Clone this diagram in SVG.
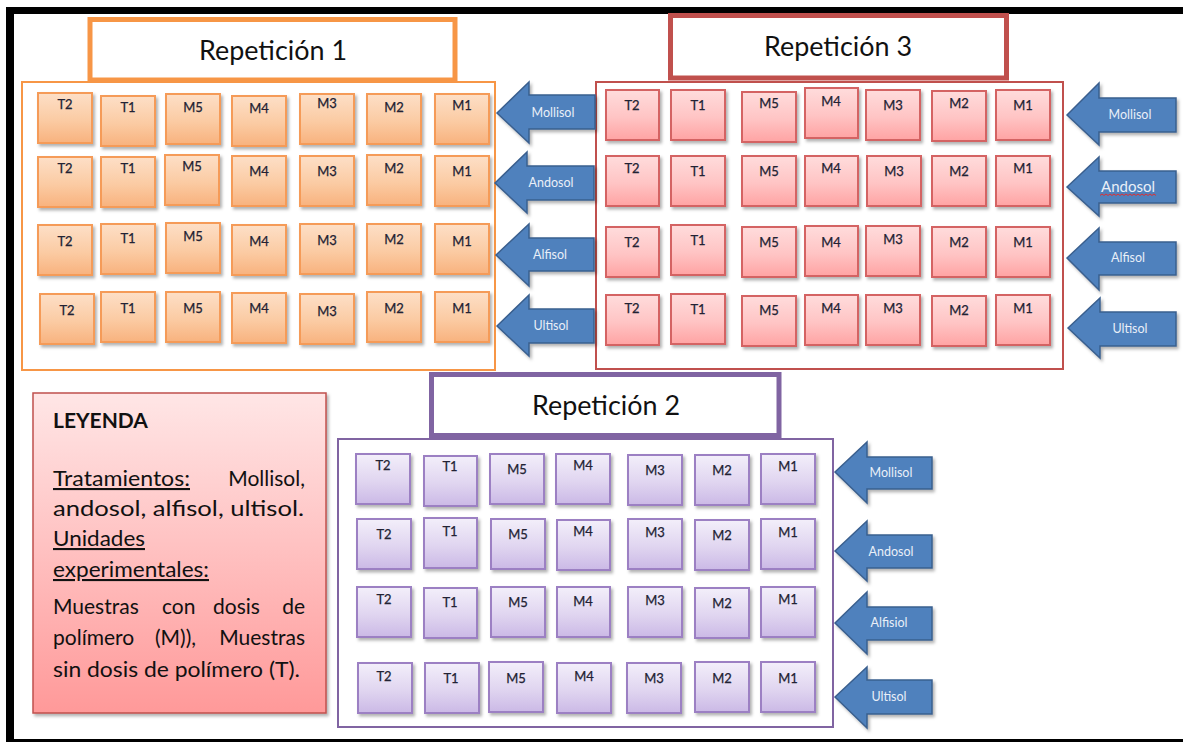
<svg xmlns="http://www.w3.org/2000/svg" width="1183" height="742" viewBox="0 0 1183 742">
  <defs>
    <filter id="sh" x="-15%" y="-15%" width="140%" height="140%">
      <feDropShadow dx="2" dy="2.5" stdDeviation="1.5" flood-color="#000" flood-opacity="0.3"/>
    </filter>
    <linearGradient id="gO" x1="0" y1="0" x2="0" y2="1">
      <stop offset="0" stop-color="#FDDFC7"/>
      <stop offset="0.55" stop-color="#FBCBA3"/>
      <stop offset="1" stop-color="#F8B27E"/>
    </linearGradient>
    <linearGradient id="gR" x1="0" y1="0" x2="0" y2="1">
      <stop offset="0" stop-color="#FFDCDC"/>
      <stop offset="0.55" stop-color="#FFC4C4"/>
      <stop offset="1" stop-color="#FFA3A3"/>
    </linearGradient>
    <linearGradient id="gP" x1="0" y1="0" x2="0" y2="1">
      <stop offset="0" stop-color="#F3EFFA"/>
      <stop offset="0.55" stop-color="#E0D5F0"/>
      <stop offset="1" stop-color="#CBB9E6"/>
    </linearGradient>
    <linearGradient id="gL" x1="0" y1="0" x2="0" y2="1">
      <stop offset="0" stop-color="#FFE6E6"/>
      <stop offset="0.5" stop-color="#FFC0C0"/>
      <stop offset="1" stop-color="#FF9999"/>
    </linearGradient>
  </defs>
  <style>
    .cell rect { stroke-width: 2; filter: url(#sh); }
    .o rect { fill: url(#gO); stroke: #F59B58; }
    .r rect { fill: url(#gR); stroke: #D46464; }
    .p rect { fill: url(#gP); stroke: #9C80C3; }
    .cell text { font-family: Lato, "Liberation Sans", sans-serif; font-size: 13px; text-anchor: middle; fill: #222233; stroke: #222233; stroke-width: 0.25; }
    .frame { fill: none; stroke-width: 2; }
    .title rect { fill: #fff; stroke-width: 5; }
    .title text { font-family: Lato, "Liberation Sans", sans-serif; font-size: 26px; text-anchor: middle; fill: #111; }
    .arrow polygon { fill: #4F81BD; stroke: #3A5F8E; stroke-width: 1.5; filter: url(#sh); }
    .arrow text { font-family: Lato, "Liberation Sans", sans-serif; font-size: 12.5px; text-anchor: middle; fill: #E9EFF8; }
    .lg { font-family: Lato, "Liberation Sans", sans-serif; font-size: 21px; fill: #111; }
    .u { text-decoration: underline; }
  </style>

  <rect width="1183" height="742" fill="#fff"/>

  <!-- page border -->
  <g id="page-border" fill="#000">
    <rect x="6" y="7" width="1177" height="7"/>
    <rect x="6" y="7" width="8" height="735"/>
    <rect x="6" y="739" width="1177" height="3"/>
  </g>

  <!-- plot frames -->
  <rect id="frame-rep1" class="frame" x="22" y="82" width="473" height="288" stroke="#F79646"/>
  <rect id="frame-rep3" class="frame" x="596" y="82" width="467" height="287" stroke="#C0504D"/>
  <rect id="frame-rep2" class="frame" x="338" y="439" width="495" height="288" stroke="#8064A2"/>

  <!-- titles -->
  <g id="title-rep1" class="title">
    <rect x="90" y="19.5" width="365" height="60.5" stroke="#F79646"/>
    <text x="273" y="60" textLength="148" lengthAdjust="spacingAndGlyphs">Repetición 1</text>
  </g>
  <g id="title-rep3" class="title">
    <rect x="670.5" y="15.5" width="336" height="62.5" stroke="#C0504D"/>
    <text x="838" y="56" textLength="148" lengthAdjust="spacingAndGlyphs">Repetición 3</text>
  </g>
  <g id="title-rep2" class="title">
    <rect x="431.5" y="374.5" width="347.5" height="61" stroke="#8064A2"/>
    <text x="606" y="415" textLength="148" lengthAdjust="spacingAndGlyphs">Repetición 2</text>
  </g>

  <!-- Repetición 1 cells -->
  <g id="rep1-cells">
    <g id="r1-1-T2" class="cell o"><rect x="38" y="93" width="54" height="50"/><text x="65" y="109">T2</text></g>
    <g id="r1-1-T1" class="cell o"><rect x="101" y="96" width="54" height="50"/><text x="128" y="112">T1</text></g>
    <g id="r1-1-M5" class="cell o"><rect x="166" y="94" width="54" height="50"/><text x="193" y="112">M5</text></g>
    <g id="r1-1-M4" class="cell o"><rect x="232" y="96" width="54" height="50"/><text x="259" y="113">M4</text></g>
    <g id="r1-1-M3" class="cell o"><rect x="300" y="94" width="54" height="50"/><text x="327" y="108">M3</text></g>
    <g id="r1-1-M2" class="cell o"><rect x="367" y="94" width="54" height="50"/><text x="394" y="112">M2</text></g>
    <g id="r1-1-M1" class="cell o"><rect x="435" y="94" width="54" height="50"/><text x="462" y="110">M1</text></g>

    <g id="r1-2-T2" class="cell o"><rect x="38" y="157" width="54" height="50"/><text x="65" y="173">T2</text></g>
    <g id="r1-2-T1" class="cell o"><rect x="101" y="157" width="54" height="50"/><text x="128" y="173">T1</text></g>
    <g id="r1-2-M5" class="cell o"><rect x="165" y="155" width="54" height="50"/><text x="192" y="171">M5</text></g>
    <g id="r1-2-M4" class="cell o"><rect x="232" y="156" width="54" height="50"/><text x="259" y="176">M4</text></g>
    <g id="r1-2-M3" class="cell o"><rect x="300" y="156" width="54" height="50"/><text x="327" y="176">M3</text></g>
    <g id="r1-2-M2" class="cell o"><rect x="367" y="155" width="54" height="50"/><text x="394" y="173">M2</text></g>
    <g id="r1-2-M1" class="cell o"><rect x="435" y="156" width="54" height="50"/><text x="462" y="176">M1</text></g>

    <g id="r1-3-T2" class="cell o"><rect x="38" y="225" width="54" height="50"/><text x="65" y="246">T2</text></g>
    <g id="r1-3-T1" class="cell o"><rect x="101" y="224" width="54" height="50"/><text x="128" y="243">T1</text></g>
    <g id="r1-3-M5" class="cell o"><rect x="166" y="223" width="54" height="50"/><text x="193" y="241">M5</text></g>
    <g id="r1-3-M4" class="cell o"><rect x="232" y="225" width="54" height="50"/><text x="259" y="246">M4</text></g>
    <g id="r1-3-M3" class="cell o"><rect x="300" y="224" width="54" height="50"/><text x="327" y="245">M3</text></g>
    <g id="r1-3-M2" class="cell o"><rect x="367" y="224" width="54" height="50"/><text x="394" y="244">M2</text></g>
    <g id="r1-3-M1" class="cell o"><rect x="435" y="224" width="54" height="50"/><text x="462" y="246">M1</text></g>

    <g id="r1-4-T2" class="cell o"><rect x="40" y="294" width="54" height="50"/><text x="67" y="315">T2</text></g>
    <g id="r1-4-T1" class="cell o"><rect x="101" y="292" width="54" height="50"/><text x="128" y="313">T1</text></g>
    <g id="r1-4-M5" class="cell o"><rect x="166" y="292" width="54" height="50"/><text x="193" y="313">M5</text></g>
    <g id="r1-4-M4" class="cell o"><rect x="232" y="293" width="54" height="50"/><text x="259" y="313">M4</text></g>
    <g id="r1-4-M3" class="cell o"><rect x="300" y="294" width="54" height="50"/><text x="327" y="316">M3</text></g>
    <g id="r1-4-M2" class="cell o"><rect x="367" y="292" width="54" height="50"/><text x="394" y="313">M2</text></g>
    <g id="r1-4-M1" class="cell o"><rect x="435" y="292" width="54" height="50"/><text x="462" y="313">M1</text></g>
  </g>

  <!-- Repetición 3 cells -->
  <g id="rep3-cells">
    <g id="r3-1-T2" class="cell r"><rect x="606" y="90" width="53" height="50"/><text x="632" y="110">T2</text></g>
    <g id="r3-1-T1" class="cell r"><rect x="671" y="90" width="54" height="50"/><text x="698" y="110">T1</text></g>
    <g id="r3-1-M5" class="cell r"><rect x="742" y="92" width="54" height="50"/><text x="769" y="108">M5</text></g>
    <g id="r3-1-M4" class="cell r"><rect x="805" y="88" width="53" height="50"/><text x="831" y="106">M4</text></g>
    <g id="r3-1-M3" class="cell r"><rect x="866" y="90" width="54" height="50"/><text x="893" y="110">M3</text></g>
    <g id="r3-1-M2" class="cell r"><rect x="932" y="91" width="54" height="50"/><text x="959" y="108">M2</text></g>
    <g id="r3-1-M1" class="cell r"><rect x="996" y="90" width="54" height="50"/><text x="1023" y="110">M1</text></g>

    <g id="r3-2-T2" class="cell r"><rect x="606" y="156" width="53" height="50"/><text x="632" y="173">T2</text></g>
    <g id="r3-2-T1" class="cell r"><rect x="671" y="156" width="54" height="50"/><text x="698" y="176">T1</text></g>
    <g id="r3-2-M5" class="cell r"><rect x="742" y="156" width="54" height="50"/><text x="769" y="176">M5</text></g>
    <g id="r3-2-M4" class="cell r"><rect x="805" y="156" width="53" height="50"/><text x="831" y="173">M4</text></g>
    <g id="r3-2-M3" class="cell r"><rect x="867" y="156" width="54" height="50"/><text x="894" y="176">M3</text></g>
    <g id="r3-2-M2" class="cell r"><rect x="932" y="156" width="54" height="50"/><text x="959" y="176">M2</text></g>
    <g id="r3-2-M1" class="cell r"><rect x="996" y="156" width="54" height="50"/><text x="1023" y="173">M1</text></g>

    <g id="r3-3-T2" class="cell r"><rect x="606" y="227" width="53" height="50"/><text x="632" y="247">T2</text></g>
    <g id="r3-3-T1" class="cell r"><rect x="671" y="225" width="54" height="50"/><text x="698" y="245">T1</text></g>
    <g id="r3-3-M5" class="cell r"><rect x="742" y="227" width="54" height="50"/><text x="769" y="247">M5</text></g>
    <g id="r3-3-M4" class="cell r"><rect x="805" y="226" width="53" height="50"/><text x="831" y="247">M4</text></g>
    <g id="r3-3-M3" class="cell r"><rect x="866" y="226" width="54" height="50"/><text x="893" y="244">M3</text></g>
    <g id="r3-3-M2" class="cell r"><rect x="932" y="227" width="54" height="50"/><text x="959" y="247">M2</text></g>
    <g id="r3-3-M1" class="cell r"><rect x="996" y="227" width="54" height="50"/><text x="1023" y="247">M1</text></g>

    <g id="r3-4-T2" class="cell r"><rect x="606" y="295" width="53" height="50"/><text x="632" y="313">T2</text></g>
    <g id="r3-4-T1" class="cell r"><rect x="671" y="294" width="54" height="50"/><text x="698" y="314">T1</text></g>
    <g id="r3-4-M5" class="cell r"><rect x="742" y="296" width="54" height="50"/><text x="769" y="315">M5</text></g>
    <g id="r3-4-M4" class="cell r"><rect x="805" y="295" width="53" height="50"/><text x="831" y="313">M4</text></g>
    <g id="r3-4-M3" class="cell r"><rect x="866" y="295" width="54" height="50"/><text x="893" y="313">M3</text></g>
    <g id="r3-4-M2" class="cell r"><rect x="932" y="296" width="54" height="50"/><text x="959" y="315">M2</text></g>
    <g id="r3-4-M1" class="cell r"><rect x="996" y="295" width="54" height="50"/><text x="1023" y="313">M1</text></g>
  </g>

  <!-- Repetición 2 cells -->
  <g id="rep2-cells">
    <g id="r2-1-T2" class="cell p"><rect x="356" y="454" width="54" height="50"/><text x="383" y="470">T2</text></g>
    <g id="r2-1-T1" class="cell p"><rect x="424" y="456" width="53" height="50"/><text x="450" y="471">T1</text></g>
    <g id="r2-1-M5" class="cell p"><rect x="490" y="454" width="54" height="50"/><text x="517" y="474">M5</text></g>
    <g id="r2-1-M4" class="cell p"><rect x="556" y="454" width="54" height="50"/><text x="583" y="470">M4</text></g>
    <g id="r2-1-M3" class="cell p"><rect x="628" y="455" width="54" height="50"/><text x="655" y="475">M3</text></g>
    <g id="r2-1-M2" class="cell p"><rect x="695" y="455" width="54" height="50"/><text x="722" y="475">M2</text></g>
    <g id="r2-1-M1" class="cell p"><rect x="761" y="454" width="54" height="50"/><text x="788" y="471">M1</text></g>

    <g id="r2-2-T2" class="cell p"><rect x="357" y="519" width="54" height="50"/><text x="384" y="539">T2</text></g>
    <g id="r2-2-T1" class="cell p"><rect x="424" y="518" width="53" height="50"/><text x="450" y="536">T1</text></g>
    <g id="r2-2-M5" class="cell p"><rect x="491" y="519" width="54" height="50"/><text x="518" y="539">M5</text></g>
    <g id="r2-2-M4" class="cell p"><rect x="557" y="520" width="53" height="50"/><text x="583" y="536">M4</text></g>
    <g id="r2-2-M3" class="cell p"><rect x="628" y="519" width="54" height="50"/><text x="655" y="537">M3</text></g>
    <g id="r2-2-M2" class="cell p"><rect x="695" y="520" width="54" height="50"/><text x="722" y="540">M2</text></g>
    <g id="r2-2-M1" class="cell p"><rect x="761" y="519" width="54" height="50"/><text x="788" y="537">M1</text></g>

    <g id="r2-3-T2" class="cell p"><rect x="357" y="587" width="54" height="50"/><text x="384" y="604">T2</text></g>
    <g id="r2-3-T1" class="cell p"><rect x="424" y="588" width="53" height="50"/><text x="450" y="607">T1</text></g>
    <g id="r2-3-M5" class="cell p"><rect x="491" y="587" width="54" height="50"/><text x="518" y="607">M5</text></g>
    <g id="r2-3-M4" class="cell p"><rect x="557" y="587" width="53" height="50"/><text x="583" y="606">M4</text></g>
    <g id="r2-3-M3" class="cell p"><rect x="628" y="587" width="54" height="50"/><text x="655" y="605">M3</text></g>
    <g id="r2-3-M2" class="cell p"><rect x="695" y="588" width="54" height="50"/><text x="722" y="608">M2</text></g>
    <g id="r2-3-M1" class="cell p"><rect x="761" y="587" width="54" height="50"/><text x="788" y="604">M1</text></g>

    <g id="r2-4-T2" class="cell p"><rect x="358" y="663" width="54" height="50"/><text x="384" y="681">T2</text></g>
    <g id="r2-4-T1" class="cell p"><rect x="425" y="663" width="54" height="50"/><text x="451" y="683">T1</text></g>
    <g id="r2-4-M5" class="cell p"><rect x="489" y="662" width="54" height="50"/><text x="516" y="683">M5</text></g>
    <g id="r2-4-M4" class="cell p"><rect x="557" y="663" width="54" height="50"/><text x="584" y="681">M4</text></g>
    <g id="r2-4-M3" class="cell p"><rect x="627" y="663" width="54" height="50"/><text x="654" y="683">M3</text></g>
    <g id="r2-4-M2" class="cell p"><rect x="695" y="662" width="54" height="50"/><text x="722" y="683">M2</text></g>
    <g id="r2-4-M1" class="cell p"><rect x="761" y="662" width="54" height="50"/><text x="788" y="683">M1</text></g>
  </g>

  <!-- soil treatment arrows -->
  <g id="soil-arrows">
    <g id="a1-mollisol" class="arrow"><polygon points="497,113 529,82 529,95 595,95 595,129 529,129 529,143"/><text x="553" y="117">Mollisol</text></g>
    <g id="a1-andosol" class="arrow"><polygon points="495,183 527,152 527,166 594,166 594,200 527,200 527,213"/><text x="551" y="187">Andosol</text></g>
    <g id="a1-alfisol" class="arrow"><polygon points="496,255 529,224 529,238 594,238 594,271 529,271 529,286"/><text x="550" y="259">Alfisol</text></g>
    <g id="a1-ultisol" class="arrow"><polygon points="497,326 529,295 529,309 594,309 594,343 529,343 529,356"/><text x="551" y="330">Ultisol</text></g>

    <g id="a3-mollisol" class="arrow"><polygon points="1067,115 1099,83 1099,98 1176,98 1176,132 1099,132 1099,145"/><text x="1130" y="119">Mollisol</text></g>
    <g id="a3-andosol" class="arrow"><polygon points="1067,187 1099,157 1099,171 1176,171 1176,203 1099,203 1099,216"/><text x="1128" y="192" style="font-size:15px">Andosol</text>
      <path d="M1100,195.5 l2,-1.5 l2,1.5 l2,-1.5 l2,1.5 l2,-1.5 l2,1.5 l2,-1.5 l2,1.5 l2,-1.5 l2,1.5 l2,-1.5 l2,1.5 l2,-1.5 l2,1.5 l2,-1.5 l2,1.5 l2,-1.5 l2,1.5 l2,-1.5 l2,1.5 l2,-1.5 l2,1.5 l2,-1.5 l2,1.5 l2,-1.5 l2,1.5 l2,-1.5 l2,1.5" fill="none" stroke="#E03030" stroke-width="1"/></g>
    <g id="a3-alfisol" class="arrow"><polygon points="1067,258 1099,228 1099,242 1176,242 1176,275 1099,275 1099,290"/><text x="1128" y="262">Alfisol</text></g>
    <g id="a3-ultisol" class="arrow"><polygon points="1068,328 1100,298 1100,312 1176,312 1176,346 1100,346 1100,358"/><text x="1130" y="333">Ultisol</text></g>

    <g id="a2-mollisol" class="arrow"><polygon points="835,472 867,442 867,457 932,457 932,489 867,489 867,503"/><text x="891" y="477">Mollisol</text></g>
    <g id="a2-andosol" class="arrow"><polygon points="835,551 867,521 867,535 932,535 932,568 867,568 867,581"/><text x="891" y="556">Andosol</text></g>
    <g id="a2-alfisiol" class="arrow"><polygon points="835,623 867,592 867,607 932,607 932,640 867,640 867,654"/><text x="889" y="627">Alfisiol</text></g>
    <g id="a2-ultisol" class="arrow"><polygon points="835,697 867,667 867,680 932,680 932,714 867,714 867,728"/><text x="889" y="701">Ultisol</text></g>
  </g>

  <!-- legend -->
  <g id="legend">
    <rect x="33" y="393" width="293" height="320" fill="url(#gL)" stroke="#C0504D" stroke-width="1.5" filter="url(#sh)"/>
    <text class="lg" x="53" y="428" font-weight="bold" font-size="18">LEYENDA</text>
    <text class="lg u" x="53" y="486" textLength="137" lengthAdjust="spacingAndGlyphs">Tratamientos:</text>
    <text class="lg" x="305" y="486" text-anchor="end">Mollisol,</text>
    <text class="lg" x="53" y="516" textLength="251" lengthAdjust="spacingAndGlyphs">andosol, alfisol, ultisol.</text>
    <text class="lg u" x="53" y="546" textLength="92" lengthAdjust="spacingAndGlyphs">Unidades</text>
    <text class="lg u" x="53" y="577" textLength="156" lengthAdjust="spacingAndGlyphs">experimentales:</text>
    <text class="lg" x="53" y="614">Muestras</text>
    <text class="lg" x="162" y="614">con</text>
    <text class="lg" x="213" y="614">dosis</text>
    <text class="lg" x="305" y="614" text-anchor="end">de</text>
    <text class="lg" x="53" y="645">polímero</text>
    <text class="lg" x="155" y="645">(M)),</text>
    <text class="lg" x="305" y="645" text-anchor="end">Muestras</text>
    <text class="lg" x="53" y="677" textLength="247" lengthAdjust="spacingAndGlyphs">sin dosis de polímero (T).</text>
  </g>
</svg>
